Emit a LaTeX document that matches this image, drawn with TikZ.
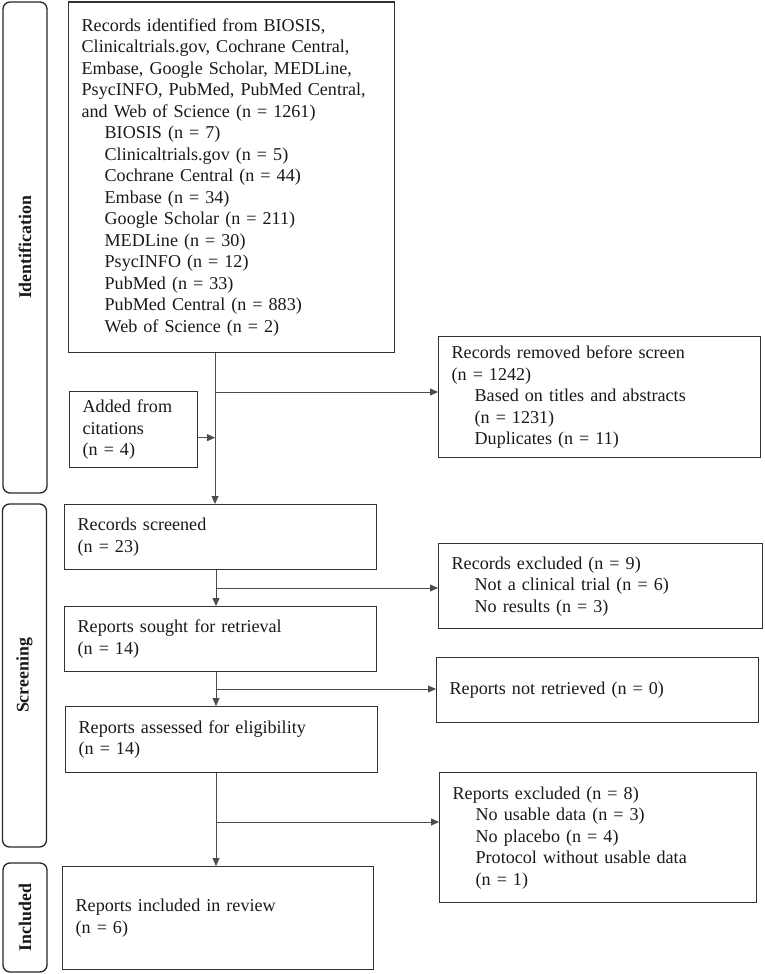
\documentclass[tikz,border=0pt]{standalone}
\usepackage{fontspec}
\setmainfont{Liberation Serif}
\usetikzlibrary{positioning, arrows.meta, calc}

\newcommand{\ind}{\hspace*{23pt}}

\begin{document}
\begin{tikzpicture}[x=1pt, y=-1pt, >={Triangle[length=8pt, width=7pt]},
    box/.style={draw=black!80, line width=1.3pt, rectangle, anchor=north west,
      align=left, inner xsep=13pt, inner ysep=0pt, text=black!90,
      font=\fontsize{18.1pt}{21.5pt}\selectfont},
    phase/.style={draw=black!85, line width=1.3pt, rounded corners=7pt,
      inner sep=0pt, minimum width=44pt, text=black!90,
      font=\bfseries\fontsize{17.8pt}{21pt}\selectfont},
    flow/.style={->, draw=black!70, line width=0.8pt}]
  \useasboundingbox (0,0) rectangle (764,974);

  % phases
  \node[phase, minimum height=491pt] (idphase) at (25,247.5) {\rotatebox{90}{Identification}};
  \node[phase, minimum height=343pt] (scphase) at (24.5,675.5) {\rotatebox{90}{Screening}};
  \node[phase, minimum height=109pt] (inphase) at (25,917.5) {\rotatebox{90}{Included}};

  % identification
  \node[box, text width=300pt, minimum height=350pt] (ident) at (68,1.5) {%
    Records identified from BIOSIS,\\
    Clinicaltrials.gov, Cochrane Central,\\
    Embase, Google Scholar, MEDLine,\\
    PsycINFO, PubMed, PubMed Central,\\
    and Web of Science (n = 1261)\\
    \ind BIOSIS (n = 7)\\
    \ind Clinicaltrials.gov (n = 5)\\
    \ind Cochrane Central (n = 44)\\
    \ind Embase (n = 34)\\
    \ind Google Scholar (n = 211)\\
    \ind MEDLine (n = 30)\\
    \ind PsycINFO (n = 12)\\
    \ind PubMed (n = 33)\\
    \ind PubMed Central (n = 883)\\
    \ind Web of Science (n = 2)};
  \node[box, text width=102pt, minimum height=76pt] (added) at (69,391) {%
    Added from\\ citations\\ (n = 4)};
  \node[box, text width=296pt, minimum height=121pt] (removed) at (438,336) {%
    Records removed before screen\\
    (n = 1242)\\
    \ind Based on titles and abstracts\\
    \ind (n = 1231)\\
    \ind Duplicates (n = 11)};

  % screening
  \node[box, text width=286pt, minimum height=65pt] (screened) at (64,504) {%
    Records screened\\ (n = 23)};
  \node[box, text width=298pt, minimum height=85pt] (excl1) at (438,543) {%
    Records excluded (n = 9)\\
    \ind Not a clinical trial (n = 6)\\
    \ind No results (n = 3)};
  \node[box, text width=286pt, minimum height=65pt] (sought) at (64,606) {%
    Reports sought for retrieval\\ (n = 14)};
  \node[box, text width=296pt, minimum height=65pt] (notret) at (436,657) {%
    Reports not retrieved (n = 0)};
  \node[box, text width=286pt, minimum height=66pt] (assessed) at (65,706) {%
    Reports assessed for eligibility\\ (n = 14)};
  \node[box, text width=291pt, minimum height=130pt] (excl2) at (439,772) {%
    Reports excluded (n = 8)\\
    \ind No usable data (n = 3)\\
    \ind No placebo (n = 4)\\
    \ind Protocol without usable data\\
    \ind (n = 1)};

  % included
  \node[box, text width=285pt, minimum height=103pt] (included) at (62,866) {%
    Reports included in review\\ (n = 6)};

  % connectors
  \coordinate (t1) at (215,392);
  \coordinate (t2) at (216,588);
  \coordinate (t3) at (216,689);
  \coordinate (t4) at (216,822);

  \draw[flow] (ident.south -| t1) -- (screened.north -| t1);
  \draw[flow] (t1) -- (t1 -| removed.west);
  \draw[flow] ([yshift=-8pt]added.east) -- ([yshift=-8pt]added.east -| t1);
  \draw[flow] (screened.south -| t2) -- (sought.north -| t2);
  \draw[flow] (t2) -- (t2 -| excl1.west);
  \draw[flow] (sought.south -| t3) -- (assessed.north -| t3);
  \draw[flow] (t3) -- (t3 -| notret.west);
  \draw[flow] (assessed.south -| t4) -- (included.north -| t4);
  \draw[flow] (t4) -- (t4 -| excl2.west);
\end{tikzpicture}
\end{document}
